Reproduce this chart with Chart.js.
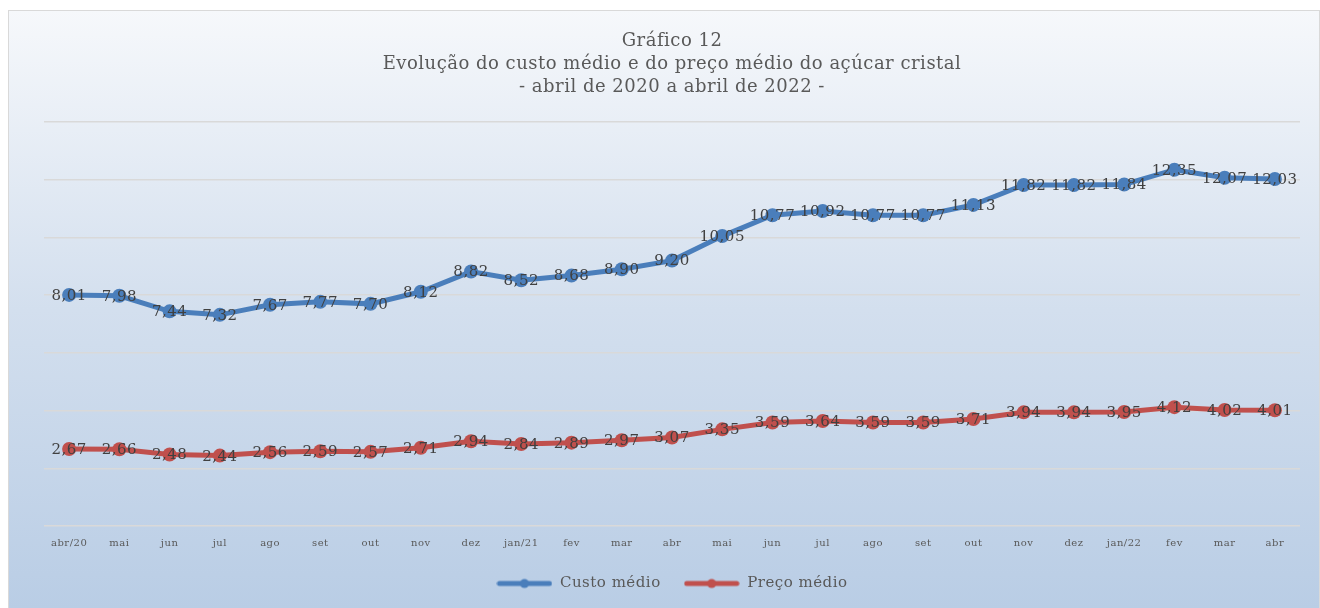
<!DOCTYPE html>
<html>
<head>
<meta charset="utf-8">
<script src="https://cdn.jsdelivr.net/npm/chart.js@4.4.1/dist/chart.umd.min.js"></script>
<style>
  html, body { margin: 0; padding: 0; background: #fff; }
  #wrap { width: 1320px; height: 608px; position: relative; }
</style>
</head>
<body>
<div id="wrap"><canvas id="chart" width="1320" height="608"></canvas></div>
<script>
// Gráfico 12 — custo médio vs preço médio do açúcar cristal
const categories = ['abr/20', 'mai', 'jun', 'jul', 'ago', 'set', 'out', 'nov', 'dez', 'jan/21',
    'fev', 'mar', 'abr', 'mai', 'jun', 'jul', 'ago', 'set', 'out', 'nov', 'dez', 'jan/22',
    'fev', 'mar', 'abr'];
const custoMedio = [8.01, 7.98, 7.44, 7.32, 7.67, 7.77, 7.70, 8.12, 8.82, 8.52, 8.68, 8.90, 9.20,
    10.05, 10.77, 10.92, 10.77, 10.77, 11.13, 11.82, 11.82, 11.84, 12.35, 12.07, 12.03];
const precoMedio = [2.67, 2.66, 2.48, 2.44, 2.56, 2.59, 2.57, 2.71, 2.94, 2.84, 2.89, 2.97, 3.07,
    3.35, 3.59, 3.64, 3.59, 3.59, 3.71, 3.94, 3.94, 3.95, 4.12, 4.02, 4.01];
const yMin = 0, yMax = 14, yStep = 2;

const BLUE = '#4a7ebb';
const RED = '#c0504d';
const FONT = '"DejaVu Serif", "Liberation Serif", serif';
const SPACING = '0.5px';

// legend marker: line with a dot in the middle
function legendMarker(color) {
    const c = document.createElement('canvas');
    c.width = 56; c.height = 12;
    const g = c.getContext('2d');
    g.strokeStyle = color;
    g.lineWidth = 5;
    g.lineCap = 'round';
    g.beginPath();
    g.moveTo(3, 6); g.lineTo(53, 6);
    g.stroke();
    g.fillStyle = color;
    g.beginPath();
    g.arc(28, 6, 4.5, 0, Math.PI * 2);
    g.fill();
    return c;
}
const markers = [legendMarker(BLUE), legendMarker(RED)];

// slightly spaced letters, like the original's text rendering
const letterSpacing = {
    id: 'letterSpacing',
    beforeUpdate(chart) { chart.ctx.letterSpacing = SPACING; },
    beforeDraw(chart) { chart.ctx.letterSpacing = SPACING; }
};

const backgroundPlugin = {
    id: 'panelBg',
    beforeDraw(chart) {
        const ctx = chart.ctx;
        const x0 = 8.5, y0 = 10.5, w = chart.width - 9, h = chart.height - 10;
        ctx.save();
        const grad = ctx.createLinearGradient(0, y0, 0, y0 + h);
        grad.addColorStop(0, '#f6f8fb');
        grad.addColorStop(0.5, '#d3dfee');
        grad.addColorStop(1, '#b9cde5');
        ctx.fillStyle = grad;
        ctx.fillRect(x0, y0, w, h);
        ctx.strokeStyle = '#d9d9d9';
        ctx.lineWidth = 1;
        ctx.strokeRect(x0, y0, w, h);
        ctx.restore();
    }
};

const valueLabels = {
    id: 'valueLabels',
    afterDatasetsDraw(chart) {
        const ctx = chart.ctx;
        ctx.save();
        ctx.font = '15px ' + FONT;
        ctx.fillStyle = '#404040';
        ctx.textAlign = 'center';
        ctx.textBaseline = 'middle';
        chart.data.datasets.forEach((ds, i) => {
            const meta = chart.getDatasetMeta(i);
            meta.data.forEach((pt, j) => {
                ctx.fillText(ds.data[j].toFixed(2).replace('.', ','), pt.x, pt.y + 1);
            });
        });
        ctx.restore();
    }
};

new Chart(document.getElementById('chart'), {
    type: 'line',
    data: {
        labels: categories,
        datasets: [{
            label: 'Custo médio',
            data: custoMedio,
            borderColor: BLUE,
            backgroundColor: BLUE,
            borderWidth: 5,
            pointRadius: 7,
            pointHoverRadius: 7,
            pointBorderWidth: 0,
            tension: 0
        }, {
            label: 'Preço médio',
            data: precoMedio,
            borderColor: RED,
            backgroundColor: RED,
            borderWidth: 5,
            pointRadius: 7,
            pointHoverRadius: 7,
            pointBorderWidth: 0,
            tension: 0
        }]
    },
    options: {
        responsive: false,
        animation: false,
        layout: { padding: { left: 44, right: 20, top: 0, bottom: 7 } },
        scales: {
            x: {
                offset: true,
                grid: { display: false },
                border: { display: false },
                ticks: { color: '#595959', font: { family: FONT, size: 10, lineHeight: 1.7 }, padding: 1, maxRotation: 0, autoSkip: false }
            },
            y: {
                min: yMin,
                max: yMax,
                ticks: { stepSize: yStep, display: false },
                grid: { color: '#d9d9d9', lineWidth: 1.5, drawTicks: false },
                border: { display: false }
            }
        },
        plugins: {
            title: {
                display: true,
                text: ['Gráfico 12', 'Evolução do custo médio e do preço médio do açúcar cristal', '- abril de 2020 a abril de 2022 -'],
                color: '#595959',
                font: { family: FONT, size: 18, weight: 'normal', lineHeight: 1.28 },
                padding: { top: 30, bottom: 23 }
            },
            legend: {
                position: 'bottom',
                labels: {
                    color: '#595959',
                    font: { family: FONT, size: 15 },
                    usePointStyle: true,
                    pointStyleWidth: 56,
                    padding: 23,
                    generateLabels(chart) {
                        const items = Chart.defaults.plugins.legend.labels.generateLabels(chart);
                        items.forEach(it => { it.pointStyle = markers[it.datasetIndex]; });
                        return items;
                    }
                }
            },
            tooltip: { enabled: false }
        }
    },
    plugins: [letterSpacing, backgroundPlugin, valueLabels]
});
</script>
</body>
</html>
